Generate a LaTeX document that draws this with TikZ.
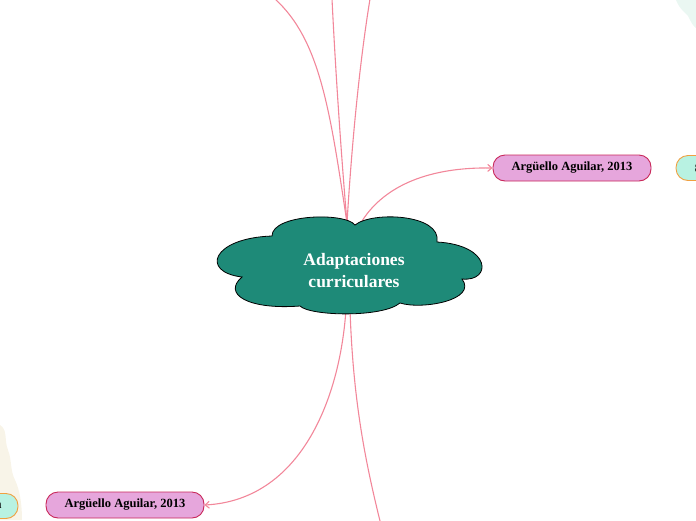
\documentclass[tikz,border=0pt]{standalone}
\usepackage{fontspec}
\setmainfont{Liberation Serif}
\usetikzlibrary{arrows.meta}
\definecolor{linkpink}{HTML}{F2879A}
\definecolor{cloudgreen}{HTML}{1E8A78}
\definecolor{pillpink}{HTML}{E6A6DC}
\definecolor{pillborder}{HTML}{C8285A}
\definecolor{mintfill}{HTML}{B8F2E2}
\definecolor{orangeborder}{HTML}{F0A040}
\definecolor{creambg}{HTML}{F8F4E8}
\definecolor{mintbg}{HTML}{EAF7F2}
\tikzset{
  link/.style={draw=linkpink, line width=1.1pt},
  linkarrow/.style={link, -{Straight Barb[length=4pt,width=7pt]}},
  pill/.style={draw=pillborder, fill=pillpink, line width=0.9pt, rounded corners=12pt,
    minimum width=158pt, minimum height=26pt, inner sep=0pt,
    font=\bfseries\fontsize{12.5}{14}\selectfont, text=black},
  mintpill/.style={draw=orangeborder, fill=mintfill, line width=0.9pt, rounded corners=12pt,
    minimum height=25pt, inner sep=0pt, font=\bfseries\fontsize{12.5}{14}\selectfont},
  cloudtext/.style={text=white, align=center, font=\bfseries\fontsize{17.5}{22}\selectfont}
}
\begin{document}
\begin{tikzpicture}[x=1pt,y=-1pt]
\useasboundingbox (0,0) rectangle (696,520);
% background blobs
\fill[mintbg] (676,0) .. controls (680,10) and (685,12) .. (688,16) .. controls (691,22) and (693,26) .. (696,28) -- (696,0) -- cycle;
\fill[creambg] (0,425) .. controls (8,430) and (4,440) .. (8,450) .. controls (12,460) and (10,470) .. (15,480) .. controls (20,490) and (22,505) .. (22,520) -- (0,520) -- cycle;
% side nodes partially visible
\node[mintpill, minimum width=44pt] (rmint) at (698,168) {8};
\node[mintpill, minimum width=40pt] (lmint) at (-2,506) {n};
% pills
\node[pill] (rpill) at (572,168) {Argüello Aguilar, 2013};
\node[pill] (lpill) at (125,505) {Argüello Aguilar, 2013};
% free ends
\coordinate (t1) at (275,-1);
\coordinate (t2) at (332,-1);
\coordinate (t3) at (370,-1);
\coordinate (b1) at (380,521);
\coordinate (ctop) at (347,223);
\coordinate (ctopr) at (362,221);
\coordinate (cbot) at (346,309);
\coordinate (cbotr) at (350,309);
% connectors
\draw[link] (ctop) .. controls (330,110) and (320,40) .. (t1);
\draw[link] (ctop) .. controls (340,140) and (335,60) .. (t2);
\draw[link] (ctop) .. controls (352,140) and (360,60) .. (t3);
\draw[linkarrow] (ctopr) .. controls (385,185) and (430,167) .. (rpill.west);
\draw[linkarrow] (cbot) .. controls (340,400) and (300,500) .. (lpill.east);
\draw[link] (cbotr) .. controls (353,400) and (365,460) .. (b1);
% cloud
\path[draw=black, fill=cloudgreen, line width=0.8pt]
  (242,277) .. controls (200,272) and (212,238) .. (272,236)
  .. controls (272,214) and (345,212) .. (355,225)
  .. controls (372,211) and (442,214) .. (437,242)
  .. controls (492,245) and (492,282) .. (462,279)
  .. controls (478,300) and (422,310) .. (400,303)
  .. controls (382,318) and (310,316) .. (300,306)
  .. controls (248,310) and (222,294) .. (242,277) -- cycle;
\node[cloudtext] (cloud) at (354,271) {Adaptaciones\\curriculares};
\end{tikzpicture}
\end{document}
